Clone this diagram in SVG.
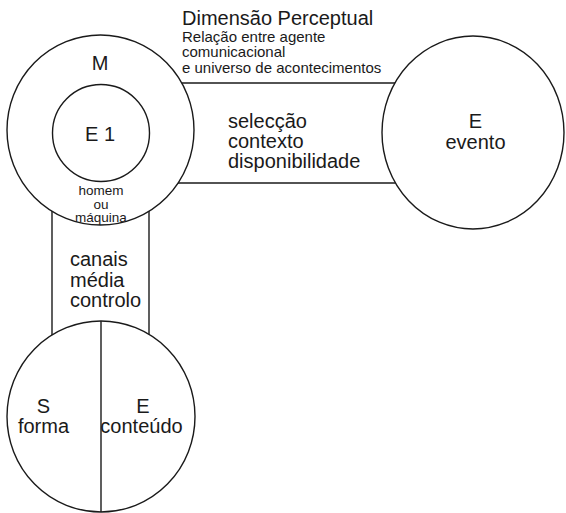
<svg xmlns="http://www.w3.org/2000/svg" width="566" height="513" viewBox="0 0 566 513">
<style>
.ln{stroke:#1a1a1a;stroke-width:1.4;fill:none}
.nd{stroke:#1a1a1a;stroke-width:1.4;fill:#fff}
text{font-family:"Liberation Sans",Arial,Helvetica,sans-serif;fill:#1a1a1a}
.b{font-size:20px}
.s{font-size:15px}
.h{font-size:13.5px}
.c{text-anchor:middle}
</style>
<rect width="566" height="513" fill="#fff"/>
<g id="connectors">
<line class="ln" x1="182" y1="83" x2="395" y2="83"/>
<line class="ln" x1="178" y1="183" x2="395.5" y2="183"/>
<line class="ln" x1="52" y1="211" x2="52" y2="335"/>
<line class="ln" x1="149" y1="211" x2="149" y2="335"/>
</g>
<g id="title">
<text class="b" x="182" y="25">Dimensão Perceptual</text>
<text class="s" x="182" y="41.5">Relação entre agente</text>
<text class="s" x="182" y="57">comunicacional</text>
<text class="s" x="182" y="72.5">e universo de acontecimentos</text>
</g>
<g id="node-M">
<ellipse class="nd" cx="100.5" cy="130" rx="93.5" ry="95"/>
<text class="b c" x="100" y="70">M</text>
<text class="h c" x="101" y="195">homem</text>
<text class="h c" x="101" y="208.5">ou</text>
<text class="h c" x="101" y="222">máquina</text>
</g>
<g id="node-E1">
<circle class="nd" cx="101" cy="133" r="48.5"/>
<text class="b c" x="100" y="141">E 1</text>
</g>
<g id="label-perceptual">
<text class="b" x="228" y="128">selecção</text>
<text class="b" x="228" y="148">contexto</text>
<text class="b" x="228" y="168">disponibilidade</text>
</g>
<g id="node-E-evento">
<ellipse class="nd" cx="473" cy="132.5" rx="91" ry="96.5"/>
<text class="b c" x="475.5" y="128">E</text>
<text class="b c" x="475.5" y="149">evento</text>
</g>
<g id="label-canais">
<text class="b" x="70" y="266">canais</text>
<text class="b" x="70" y="287">média</text>
<text class="b" x="70" y="307">controlo</text>
</g>
<g id="node-S-E">
<ellipse class="nd" cx="101" cy="416.5" rx="94" ry="95.5"/>
<line class="ln" x1="101" y1="321" x2="101" y2="512"/>
<text class="b c" x="43.5" y="413">S</text>
<text class="b c" x="43.5" y="433">forma</text>
<text class="b c" x="143" y="413">E</text>
<text class="b c" x="141.5" y="433">conteúdo</text>
</g>
</svg>
